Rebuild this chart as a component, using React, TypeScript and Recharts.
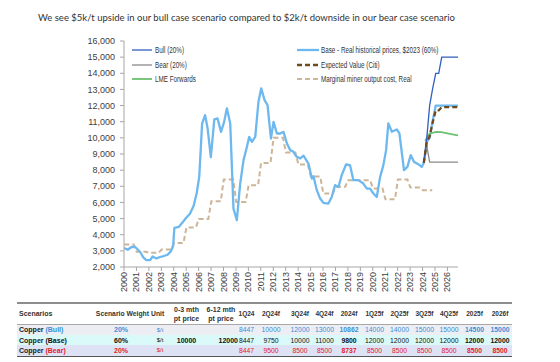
import React from 'react';
import { LineChart, Line, XAxis, YAxis, Legend } from 'recharts';

// historical base price, real $2023
const histDates = [
  2000.0, 2000.3, 2000.6, 2000.9, 2001.3, 2001.55, 2001.8, 2002.1, 2002.3, 2002.6, 2002.9,
  2003.2, 2003.5, 2003.75, 2003.95, 2004.05, 2004.4, 2004.7, 2004.95, 2005.3, 2005.6, 2005.85,
  2006.05, 2006.28, 2006.52, 2006.72, 2006.98, 2007.26, 2007.52, 2007.8, 2008.05, 2008.27,
  2008.54, 2008.8, 2009.07, 2009.34, 2009.61, 2009.88, 2010.06, 2010.28, 2010.55, 2010.81,
  2011.03, 2011.3, 2011.54, 2011.81, 2012.02, 2012.29, 2012.56, 2012.82, 2013.1, 2013.36,
  2013.6, 2013.85, 2014.17, 2014.43, 2014.83, 2015.1, 2015.23, 2015.5, 2015.77, 2016.03,
  2016.43, 2016.7, 2016.97, 2017.24, 2017.5, 2017.85, 2018.17, 2018.44, 2018.84, 2019.24,
  2019.52, 2019.78, 2020.05, 2020.32, 2020.59, 2020.85, 2021.07, 2021.25, 2021.53, 2021.93,
  2022.14, 2022.51, 2022.78, 2023.05, 2023.32, 2023.66, 2023.93,
];
const histBase = [
  3180, 3070, 3240, 3240, 2930, 2600, 2430, 2420, 2650, 2530, 2620,
  2680, 2760, 2950, 3300, 4420, 4480, 4750, 5000, 5300, 5800, 6600,
  7600, 10900, 11400, 10600, 8800, 11150, 11200, 10370, 10990, 11830,
  10890, 5620, 4900, 7170, 8620, 9440, 10060, 9750, 10060, 12240,
  13070, 12340, 12030, 9960, 10990, 10270, 10270, 10370, 9650, 9240,
  9150, 8850, 8730, 8900, 8410, 7480, 7630, 6760, 6240, 5970,
  5930, 6340, 7070, 6960, 7690, 8350, 8310, 7380, 7380, 7170,
  6860, 6860, 6550, 6340, 7580, 8310, 9240, 10900, 10380, 10520,
  10280, 8000, 8200, 8930, 8510, 8370, 8200,
];

// marginal miner output cost, one level per year
const costYears = [
  2000, 2001, 2002, 2003, 2004, 2005, 2006, 2007, 2008, 2009, 2010, 2011, 2012,
  2013, 2014, 2015, 2016, 2017, 2018, 2019, 2020, 2021, 2022, 2023, 2024,
];
const costValues = [
  3390, 2940, 2880, 3080, 3480, 4450, 4980, 6080, 7420, 6030, 7070, 8450, 10000,
  9100, 8350, 7600, 6550, 6965, 7378, 7378, 6862, 6190, 7420, 6920, 6760,
];

// scenario paths: 1Q24 .. 4Q25f, then 2026f
const fcDates = [2024.1, 2024.34, 2024.57, 2024.8, 2025.06, 2025.3, 2025.54, 2025.78, 2026.85];
const bullPath = [8447, 10000, 12000, 13000, 14000, 14000, 15000, 15000, 15000];
const basePath = [8447, 9750, 10000, 11000, 12000, 12000, 12000, 12000, 12000];
const bearPath = [8447, 9500, 8500, 8500, 8500, 8500, 8500, 8500, 8500];
const evPath = [8447, 9750, 10100, 10900, 11700, 11700, 11900, 11900, 11900];

const lmeDates = [2024.22, 2024.45, 2024.7, 2025.1, 2025.5, 2025.9, 2026.4, 2026.85];
const lmeValues = [9800, 10180, 10300, 10370, 10350, 10300, 10220, 10150];

const xTicks = [
  2000, 2001, 2002, 2003, 2004, 2005, 2006, 2007, 2008, 2009, 2010, 2011, 2012, 2013,
  2014, 2015, 2016, 2017, 2018, 2019, 2020, 2021, 2022, 2023, 2024, 2025, 2026,
];
const yTicks = [2000, 3000, 4000, 5000, 6000, 7000, 8000, 9000, 10000, 11000, 12000, 13000, 14000, 15000, 16000];

// table
const periodCols = ['1Q24', '2Q24f', '3Q24f', '4Q24f', '2024f', '1Q25f', '2Q25f', '3Q25f', '4Q25f', '2025f', '2026f'];
const annualCols = ['2024f', '2025f', '2026f'];
const scenarioNames = ['Bull', 'Base', 'Bear'];
const scenarioWeights = ['20%', '60%', '20%'];
const spotPrice = ['', '10000', ''];
const forwardPrice = ['', '12000', ''];
const bullRow = [8447, 10000, 12000, 13000, 10862, 14000, 14000, 15000, 15000, 14500, 15000];
const baseRow = [8447, 9750, 10000, 11000, 9800, 12000, 12000, 12000, 12000, 12000, 12000];
const bearRow = [8447, 9500, 8500, 8500, 8737, 8500, 8500, 8500, 8500, 8500, 8500];

const toPoints = (xs: number[], ys: number[]) => xs.map((x, i) => ({ x, v: ys[i] }));

const baseData = [...toPoints(histDates, histBase), ...toPoints(fcDates, basePath)];
const costData = costYears.flatMap((y, i) => [
  { x: y + 0.02, v: costValues[i] },
  { x: y + 0.78, v: costValues[i] },
]);
const bullData = toPoints(fcDates, bullPath);
const bearData = toPoints(fcDates, bearPath);
const evData = toPoints(fcDates, evPath);
const lmeData = toPoints(lmeDates, lmeValues);

const FONT = '"Liberation Sans", Arial, sans-serif';

const series: Record<string, { stroke: string; width: number; dash?: string; col: number; row: number }> = {
  'Bull (20%)': { stroke: '#3060c0', width: 1.3, col: 0, row: 0 },
  'Bear (20%)': { stroke: '#8a8a8a', width: 1.3, col: 0, row: 1 },
  'LME Forwards': { stroke: '#6cc16f', width: 1.8, col: 0, row: 2 },
  'Base - Real historical prices, $2023 (60%)': { stroke: '#6db8ef', width: 2.3, col: 1, row: 0 },
  'Expected Value (Citi)': { stroke: '#6e4b1e', width: 2.3, dash: '5 3', col: 1, row: 1 },
  'Marginal miner output cost, Real': { stroke: '#cdb597', width: 2, dash: '5 3', col: 1, row: 2 },
};

const legendCols = [
  { lineX: 132, lineW: 20, textX: 155 },
  { lineX: 297, lineW: 22, textX: 321 },
];
const legendRows = [50, 64.5, 79];

const renderLegend = (props: any) => {
  const payload = props.payload || [];
  return (
    <div style={{ position: 'relative', width: 560, height: 100 }}>
      {payload.map((entry: any) => {
        const s = series[entry.value];
        if (!s) return null;
        const c = legendCols[s.col];
        const y = legendRows[s.row];
        return (
          <div key={entry.value}>
            <svg
              width={c.lineW}
              height={6}
              style={{ position: 'absolute', left: c.lineX, top: y - 3 }}
            >
              <line x1={0} y1={3} x2={c.lineW} y2={3} stroke={s.stroke} strokeWidth={s.width} strokeDasharray={s.dash} />
            </svg>
            <span
              style={{
                position: 'absolute',
                left: c.textX,
                top: y - 6,
                fontFamily: FONT,
                fontSize: 8.5,
                lineHeight: '12px',
                color: '#333',
                whiteSpace: 'nowrap',
                transform: 'scaleX(0.74)',
                transformOrigin: 'left center',
              }}
            >
              {entry.value}
            </span>
          </div>
        );
      })}
    </div>
  );
};

const YearTick = (props: any) => {
  const { x, y, payload } = props;
  return (
    <text
      x={x}
      y={y}
      transform={`rotate(-90 ${x} ${y})`}
      textAnchor="end"
      dominantBaseline="central"
      fontSize={9}
      fontFamily={FONT}
      fill="#404040"
    >
      {payload.value}
    </text>
  );
};

const rowColors = ['#3b8fd9', '#111', '#e4202c'];
const rowBg = ['#eceef3', '#dafafa', '#dde2f4'];
const rowValues = [bullRow, baseRow, bearRow];
const colWidths = [74, 60, 18, 35, 34, 17, 32, 26, 23, 26, 25, 25, 25, 24, 27, 24];

const cell: React.CSSProperties = { padding: 0, textAlign: 'center', whiteSpace: 'nowrap' };

const ScenarioTable = () => (
  <table
    style={{
      position: 'absolute',
      left: 17,
      top: 302,
      width: 495,
      borderCollapse: 'collapse',
      tableLayout: 'fixed',
      fontFamily: FONT,
      fontSize: 7,
      fontWeight: 700,
      color: '#333',
    }}
  >
    <colgroup>
      {colWidths.map((w, i) => (
        <col key={i} style={{ width: w }} />
      ))}
    </colgroup>
    <thead>
      <tr style={{ height: 21, borderTop: '2px solid #8d8d8d', borderBottom: '1.5px solid #a8a8a8' }}>
        <th style={{ ...cell, textAlign: 'left', paddingLeft: 2 }}>Scenarios</th>
        <th style={{ ...cell, textAlign: 'right', paddingRight: 2, fontSize: 6.8 }}>Scenario Weight</th>
        <th style={{ ...cell, textAlign: 'left', fontSize: 6.8 }}>Unit</th>
        <th style={{ ...cell, lineHeight: '9px' }}>0-3 mth<br />pt price</th>
        <th style={{ ...cell, lineHeight: '9px' }}>6-12 mth<br />pt price</th>
        {periodCols.map((p) => (
          <th key={p} style={{ ...cell, fontSize: 6.5 }}>{p}</th>
        ))}
      </tr>
    </thead>
    <tbody>
      {scenarioNames.map((name, r) => (
        <tr
          key={name}
          style={{
            height: 10.7,
            background: rowBg[r],
            borderBottom: r === 2 ? '1.5px solid #555' : undefined,
          }}
        >
          <td style={{ ...cell, textAlign: 'left', paddingLeft: 2, color: '#222' }}>
            Copper <span style={{ color: rowColors[r] }}>({name})</span>
          </td>
          <td style={{ ...cell, color: rowColors[r] }}>{scenarioWeights[r]}</td>
          <td style={{ ...cell, color: rowColors[r], fontWeight: 400, fontSize: 6 }}>$/t</td>
          <td style={{ ...cell, color: rowColors[r] }}>{spotPrice[r]}</td>
          <td style={{ ...cell, color: rowColors[r], textAlign: 'right' }}>{forwardPrice[r]}</td>
          {rowValues[r].map((v, i) => (
            <td
              key={i}
              style={{
                ...cell,
                color: rowColors[r],
                fontWeight: annualCols.includes(periodCols[i]) ? 700 : 400,
                fontSize: 6.8,
              }}
            >
              {v}
            </td>
          ))}
        </tr>
      ))}
    </tbody>
  </table>
);

export default function App() {
  const axisColor = '#a6a6a6';
  return (
    <div style={{ position: 'relative', width: 560, height: 362, background: '#fff', overflow: 'hidden' }}>
      <style>{'body{margin:0}'}</style>
      <div
        style={{
          position: 'absolute',
          left: 38,
          top: 12,
          fontFamily: 'Lato, "Open Sans", sans-serif',
          fontSize: 9.5,
          color: '#333',
          whiteSpace: 'nowrap',
        }}
      >
        We see $5k/t upside in our bull case scenario compared to $2k/t downside in our bear case scenario
      </div>
      <div style={{ position: 'absolute', left: 0, top: 0 }}>
        <LineChart width={560} height={297} margin={{ top: 41, right: 102, left: 64, bottom: 0 }}>
          <XAxis
            type="number"
            dataKey="x"
            domain={[2000, 2026.85]}
            ticks={xTicks}
            interval={0}
            allowDataOverflow
            height={30}
            stroke={axisColor}
            tickSize={4}
            tickMargin={1}
            tick={<YearTick />}
          />
          <YAxis
            type="number"
            domain={[2000, 16000]}
            ticks={yTicks}
            interval={0}
            width={60}
            stroke={axisColor}
            tickSize={4}
            tickMargin={5}
            tick={{ fontSize: 9, fontFamily: FONT, fill: '#404040' }}
            tickFormatter={(v: number) => v.toLocaleString('en-US')}
          />
          <Legend
            layout="horizontal"
            verticalAlign="middle"
            align="center"
            content={renderLegend}
            wrapperStyle={{ position: 'absolute', left: 0, top: 0, width: 560, height: 100 }}
          />
          <Line
            data={costData}
            dataKey="v"
            name="Marginal miner output cost, Real"
            stroke={series['Marginal miner output cost, Real'].stroke}
            strokeWidth={2}
            strokeDasharray="5 3"
            dot={false}
            isAnimationActive={false}
          />
          <Line
            data={baseData}
            dataKey="v"
            name="Base - Real historical prices, $2023 (60%)"
            stroke={series['Base - Real historical prices, $2023 (60%)'].stroke}
            strokeWidth={2.3}
            strokeLinejoin="round"
            dot={false}
            isAnimationActive={false}
          />
          <Line
            data={lmeData}
            dataKey="v"
            name="LME Forwards"
            stroke={series['LME Forwards'].stroke}
            strokeWidth={1.8}
            dot={false}
            isAnimationActive={false}
          />
          <Line
            data={bearData}
            dataKey="v"
            name="Bear (20%)"
            stroke={series['Bear (20%)'].stroke}
            strokeWidth={1.3}
            dot={false}
            isAnimationActive={false}
          />
          <Line
            data={bullData}
            dataKey="v"
            name="Bull (20%)"
            stroke={series['Bull (20%)'].stroke}
            strokeWidth={1.3}
            dot={false}
            isAnimationActive={false}
          />
          <Line
            data={evData}
            dataKey="v"
            name="Expected Value (Citi)"
            stroke={series['Expected Value (Citi)'].stroke}
            strokeWidth={2.3}
            strokeDasharray="5 3"
            dot={false}
            isAnimationActive={false}
          />
        </LineChart>
      </div>
      <ScenarioTable />
    </div>
  );
}
